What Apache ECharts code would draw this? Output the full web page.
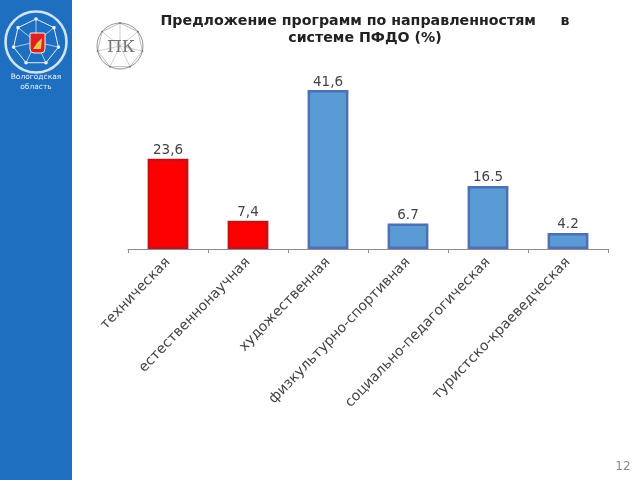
<!DOCTYPE html>
<html><head><meta charset="utf-8">
<style>html,body{margin:0;padding:0;background:#fff}#c{width:640px;height:480px}</style>
<script src="https://cdn.jsdelivr.net/npm/echarts@6/dist/echarts.min.js"></script>
</head><body><div id="c"></div>
<script>
const categories=['техническая','естественнонаучная','художественная','физкультурно-спортивная','социально-педагогическая','туристско-краеведческая'];
const values=[23.6,7.4,41.6,6.7,16.5,4.2];
const valueLabels=['23,6','7,4','41,6','6.7','16.5','4.2'];
const barFill=['#ff0000','#ff0000','#5b9bd5','#5b9bd5','#5b9bd5','#5b9bd5'];
const barEdge=['#c8101a','#c8101a','#4f6fb5','#4f6fb5','#4f6fb5','#4f6fb5'];
const titleText='Предложение программ по направленностям     в\nсистеме ПФДО (%)';
const pageNumber='12';
const regionName='Вологодская\nобласть';

function ring(cx,cy,r,color,lw){
  return {type:'circle',shape:{cx,cy,r},style:{fill:'none',stroke:color,lineWidth:lw}};
}
function network(cx,cy,r,color,lw){
  const pts=[];
  for(let i=0;i<7;i++){const a=-Math.PI/2+i*2*Math.PI/7;pts.push([cx+r*Math.cos(a),cy+r*Math.sin(a)]);}
  const out=[{type:'polygon',shape:{points:pts},style:{fill:'none',stroke:color,lineWidth:lw}}];
  pts.forEach(p=>{
    out.push({type:'line',shape:{x1:p[0],y1:p[1],x2:cx,y2:cy},style:{stroke:color,lineWidth:lw*0.7}});
    out.push({type:'circle',shape:{cx:p[0],cy:p[1],r:lw*1.8},style:{fill:color}});
  });
  return out;
}
const chart=echarts.init(document.getElementById('c'),null,{renderer:'canvas'});
chart.setOption({
  animation:false,
  backgroundColor:'#ffffff',
  title:{text:titleText,left:360,top:8,textAlign:'center',
    textStyle:{fontFamily:'DejaVu Sans',fontWeight:'bold',fontSize:14.2,lineHeight:17,color:'#222222'}},
  grid:{left:128,right:32,top:90,bottom:231,containLabel:false},
  xAxis:{type:'category',data:categories,
    axisLine:{lineStyle:{color:'#8c8c8c',width:1}},
    axisTick:{show:true,alignWithLabel:false,length:4,lineStyle:{color:'#8c8c8c'}},
    axisLabel:{interval:0,rotate:46,fontFamily:'DejaVu Sans',fontSize:14,color:'#444444',margin:11}},
  yAxis:{type:'value',min:0,max:41.6,show:false,splitLine:{show:false}},
  series:[{type:'bar',barWidth:'51%',
    data:values.map((v,i)=>({value:v,itemStyle:{color:barFill[i],borderColor:barEdge[i],borderWidth:2.5}})),
    label:{show:true,position:'top',distance:1,fontFamily:'DejaVu Sans',fontSize:13.5,color:'#444444',
      formatter:p=>valueLabels[p.dataIndex]}}],
  graphic:[
    {type:'rect',shape:{x:0,y:0,width:72,height:480},style:{fill:'#1e6fc0'},silent:true},
    ring(36,42,30.5,'#cfe3f5',2.6),
    ...network(36,42,23,'#e4eff9',1),
    {type:'rect',shape:{x:30,y:33,width:15,height:20,r:[1,1,4,4]},style:{fill:'#e02020',stroke:'#f5f5f5',lineWidth:1}},
    {type:'polygon',shape:{points:[[33,49],[41,49],[42,38],[37,43]]},style:{fill:'#e8c84a'}},
    {type:'text',style:{x:36,y:72,text:regionName,fill:'#e8f2fb',font:'7.5px "DejaVu Sans"',align:'center',verticalAlign:'top',lineHeight:10}},
    ring(120,46,23,'#8a8a8a',0.9),
    ...network(120,46,23,'#777777',0.5),
    {type:'text',style:{x:121,y:48,text:'ПК',fill:'#777777',font:'17px "DejaVu Serif"',align:'center',verticalAlign:'middle'}},
    {type:'text',style:{x:623,y:467,text:pageNumber,fill:'#8a8a8a',font:'12px "DejaVu Sans"',align:'center',verticalAlign:'middle'}}
  ]
});
</script></body></html>
